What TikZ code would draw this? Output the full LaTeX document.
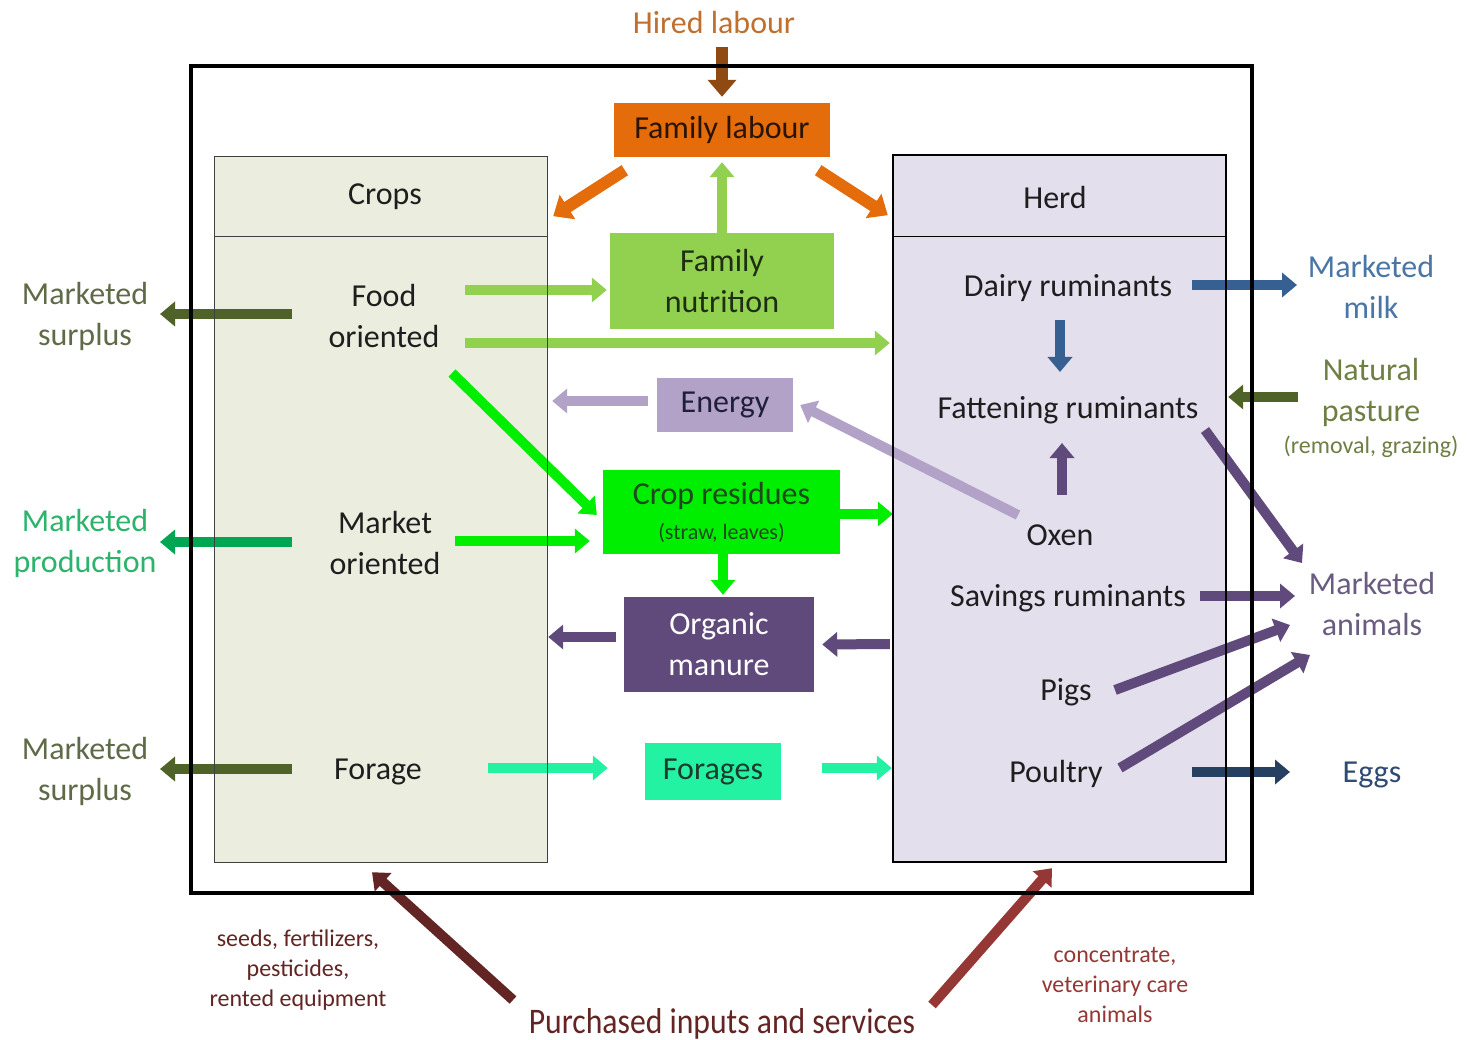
\documentclass[tikz,border=0pt]{standalone}
\usepackage{fontspec}
\setmainfont{Carlito}
\usetikzlibrary{arrows.meta}

\definecolor{ink}{HTML}{1E1E1E}
\definecolor{hiredtxt}{HTML}{C0702E}
\definecolor{hiredarr}{HTML}{8E4A12}
\definecolor{labour}{HTML}{E46C0A}
\definecolor{labourtxt}{HTML}{2A1405}
\definecolor{nutrc}{HTML}{92D050}
\definecolor{nutrtxt}{HTML}{1E2E12}
\definecolor{resid}{HTML}{00EE00}
\definecolor{residtxt}{HTML}{1E4A1E}
\definecolor{energyc}{HTML}{B3A2C7}
\definecolor{energytxt}{HTML}{1F1F3A}
\definecolor{manurec}{HTML}{604A7B}
\definecolor{foragec}{HTML}{22F2A2}
\definecolor{foragetxt}{HTML}{1D3B2D}
\definecolor{cropsbg}{HTML}{EBEEDF}
\definecolor{herdbg}{HTML}{E3DFEC}
\definecolor{milkc}{HTML}{376092}
\definecolor{milktxt}{HTML}{4A76A6}
\definecolor{eggsc}{HTML}{254061}
\definecolor{eggstxt}{HTML}{2F4B74}
\definecolor{olivec}{HTML}{4F6228}
\definecolor{olivetxt}{HTML}{6E7F44}
\definecolor{surplustxt}{HTML}{5F6B48}
\definecolor{marketc}{HTML}{00A651}
\definecolor{markettxt}{HTML}{2DB36B}
\definecolor{animaltxt}{HTML}{6A5C80}
\definecolor{maroonc}{HTML}{632523}
\definecolor{brickc}{HTML}{953735}

\tikzset{
  lbl/.style={inner sep=0pt, align=center, text=ink,
    font=\fontsize{32}{41}\selectfont},
  small/.style={inner sep=0pt, align=center,
    font=\fontsize{24}{30}\selectfont},
  panel/.style={inner sep=0pt, minimum width=#1},
  flow/.style={line width=10pt, -{Triangle[length=15pt,width=24pt]}},
  bigflow/.style={line width=12pt, -{Triangle[length=17pt,width=28pt]}},
}

\begin{document}
\begin{tikzpicture}[x=1pt,y=-1pt]
\useasboundingbox[fill=white] (0,0) rectangle (1467,1040);

% ---------- panels (fills only; borders are drawn last) ----------
\node[panel=1061, minimum height=827] (farm) at (721.5,479.5) {};
\node[panel=332, minimum height=79, fill=cropsbg] (cropshead) at (381,196.5) {};
\node[lbl] (cropslbl) at (385,197) {Crops};
\node[panel=332, minimum height=626, fill=cropsbg] (cropsbody) at (381,549) {};
\node[panel=333, minimum height=81, fill=herdbg] (herdhead) at (1059.5,195.5) {};
\node[lbl] (herdlbl) at (1055,198) {Herd};
\node[panel=333, minimum height=626, fill=herdbg] (herdbody) at (1059.5,549) {};

% ---------- central flow boxes ----------
\node[lbl, fill=labour, text=labourtxt, minimum width=216, minimum height=54] (famlab) at (722,130) {\raisebox{-3pt}{Family labour}};
\node[lbl, fill=nutrc, text=nutrtxt, minimum width=224, minimum height=96] (nutr) at (722,281) {Family\\nutrition};
\node[lbl, fill=energyc, text=energytxt, minimum width=136, minimum height=54] (energy) at (725,405) {\raisebox{-3pt}{Energy}};
\node[lbl, fill=resid, text=residtxt, minimum width=237, minimum height=84] (res) at (721.5,512)
  {Crop residues\\[-6pt]{\fontsize{22}{26}\selectfont (straw, leaves)}};
\node[lbl, fill=manurec, text=white, minimum width=190, minimum height=95] (manure) at (719,644.5) {Organic\\manure};
\node[lbl, fill=foragec, text=foragetxt, minimum width=136, minimum height=57] (forages) at (713,771.5) {\raisebox{-3pt}{Forages}};

% ---------- crop and herd items ----------
\node[lbl] (food) at (384,316) {Food\\oriented};
\node[lbl] (market) at (385,543) {Market\\oriented};
\node[lbl] (forage) at (378,772) {Forage};

\node[lbl] (dairy) at (1068,288) {Dairy ruminants};
\node[lbl] (fatt) at (1068,410) {Fattening ruminants};
\node[lbl] (oxen) at (1060,535) {Oxen};
\node[lbl] (savings) at (1068,598) {Savings ruminants};
\node[lbl] (pigs) at (1066,692) {Pigs};
\node[lbl] (poultry) at (1056,774) {Poultry};

% ---------- outside labels ----------
\node[lbl, text=hiredtxt] (hired) at (714,23) {Hired labour};
\node[lbl, text=surplustxt] (ms1) at (85,316) {Marketed\\surplus};
\node[lbl, text=markettxt] (mprod) at (85,543) {Marketed\\production};
\node[lbl, text=surplustxt] (ms2) at (85,771) {Marketed\\surplus};
\node[lbl, text=milktxt] (milk) at (1371,287) {Marketed\\milk};
\node[lbl, text=olivetxt] (pasture) at (1371,392) {Natural\\pasture};
\node[small, text=olivetxt] (pastnote) at (1371,447) {(removal, grazing)};
\node[lbl, text=animaltxt] (animals) at (1372,604) {Marketed\\animals};
\node[lbl, text=eggstxt] (eggs) at (1372,775) {Eggs};
\node[inner sep=0pt, text=maroonc, font=\fontsize{36}{40}\selectfont] (purch) at (722,1024)
  {\scalebox{0.88}[1]{Purchased inputs and services}};
\node[small, text=maroonc] (seeds) at (298,970) {seeds, fertilizers,\\pesticides,\\rented equipment};
\node[small, text=brickc] (conc) at (1115,985) {concentrate,\\veterinary care\\animals};

% ---------- labour flows ----------
\draw[bigflow, hiredarr, shorten <=13pt, shorten >=6pt] (hired.south -| famlab.north) -- (famlab.north);
\draw[bigflow, labour] ([xshift=11pt,yshift=-13pt]famlab.south west) -- ([xshift=6pt,yshift=20pt]cropshead.south east);
\draw[bigflow, labour] ([xshift=-12pt,yshift=-13pt]famlab.south east) -- ([xshift=-5pt,yshift=21pt]herdhead.south west);
\draw[flow, nutrc] (nutr.north) -- ([yshift=-5pt]famlab.south);

% ---------- crop flows ----------
\draw[flow, nutrc] ([xshift=81pt,yshift=26pt]food.center) -- ([xshift=-3pt,yshift=-9pt]nutr.west);
\draw[flow, nutrc] ([xshift=81pt,yshift=-27pt]food.center) -- ([xshift=-3pt,yshift=206pt]herdbody.west);
\draw[flow, resid] ([xshift=68pt,yshift=-57pt]food.center) -- ([xshift=-6pt,yshift=-3pt]res.west);
\draw[flow, resid] ([xshift=70pt,yshift=2pt]market.center) -- ([xshift=-13pt,yshift=-29pt]res.west);
\draw[flow, resid] ([yshift=-2pt]res.east) -- ([yshift=35pt]herdbody.west);
\draw[flow, resid] ([xshift=1.5pt]res.south) -- ([xshift=4pt,yshift=2pt]manure.north);
\draw[flow, foragec] ([xshift=110pt,yshift=4pt]forage.center) -- ([xshift=-37pt,yshift=3.5pt]forages.west);
\draw[flow, foragec] ([xshift=41pt,yshift=3.5pt]forages.east) -- ([xshift=-1pt,yshift=-219pt]herdbody.west);

% ---------- energy and manure ----------
\draw[flow, energyc] ([xshift=-9pt,yshift=4pt]energy.west) -- ([xshift=5pt,yshift=148pt]cropsbody.east);
\draw[flow, energyc] ([xshift=-42pt,yshift=20pt]oxen.center) -- ([xshift=7pt]energy.east);
\draw[flow, manurec] ([xshift=-8pt,yshift=7.5pt]manure.west) -- ([xshift=1pt,yshift=-88pt]cropsbody.east);
\draw[flow, manurec] ([xshift=-3pt,yshift=-95pt]herdbody.west) -- ([xshift=8pt]manure.east);

% ---------- sales of crops ----------
\draw[flow, olivec] ([xshift=-92pt,yshift=2pt]food.center) -- ([xshift=75pt,yshift=2pt]ms1.center);
\draw[flow, marketc] ([xshift=-93pt,yshift=1pt]market.center) -- ([xshift=75pt,yshift=1pt]mprod.center);
\draw[flow, olivec] ([xshift=-86pt,yshift=3pt]forage.center) -- ([xshift=75pt,yshift=2pt]ms2.center);

% ---------- herd flows ----------
\draw[flow, milkc] ([xshift=-8pt,yshift=-32pt]dairy.center) -- ([xshift=-8pt,yshift=38pt]fatt.center);
\draw[flow, manurec] ([xshift=2pt,yshift=40pt]oxen.center) -- ([xshift=-6pt,yshift=-33pt]fatt.center);
\draw[flow, milkc] ([xshift=124pt,yshift=3pt]dairy.center) -- ([xshift=-74pt,yshift=2pt]milk.center);
\draw[flow, olivec] ([xshift=-73pt,yshift=-5pt]pasture.center) -- ([xshift=2pt,yshift=152pt]herdbody.east);
\draw[flow, manurec] ([xshift=137pt,yshift=-20pt]fatt.center) -- ([xshift=-70pt,yshift=41pt]animals.center);
\draw[flow, manurec] ([xshift=132pt,yshift=2pt]savings.center) -- ([xshift=-77pt,yshift=8pt]animals.center);
\draw[flow, manurec] ([xshift=49pt,yshift=2pt]pigs.center) -- ([xshift=-82pt,yshift=-21pt]animals.center);
\draw[flow, manurec] ([xshift=64pt,yshift=6pt]poultry.center) -- ([xshift=-62pt,yshift=-51pt]animals.center);
\draw[flow, eggsc] ([xshift=136pt,yshift=2pt]poultry.center) -- ([xshift=-82pt,yshift=3pt]eggs.center);

% ---------- purchased inputs ----------
\draw[flow, maroonc] ([xshift=-209pt,yshift=24pt]purch.center) -- ([xshift=-9pt,yshift=-10pt]cropsbody.south);
\draw[flow, brickc] ([xshift=210pt,yshift=19pt]purch.center) -- ([xshift=-7.5pt,yshift=-6pt]herdbody.south);

% ---------- borders on top ----------
\draw[line width=1.3pt, black!75] (cropshead.north west) rectangle (cropsbody.south east);
\draw[line width=1.3pt, black!75] (cropshead.south west) -- (cropshead.south east);
\draw[line width=2pt] (herdhead.north west) rectangle (herdbody.south east);
\draw[line width=1.3pt] (herdhead.south west) -- (herdhead.south east);
\draw[line width=4pt] (farm.north west) rectangle (farm.south east);
\end{tikzpicture}
\end{document}
